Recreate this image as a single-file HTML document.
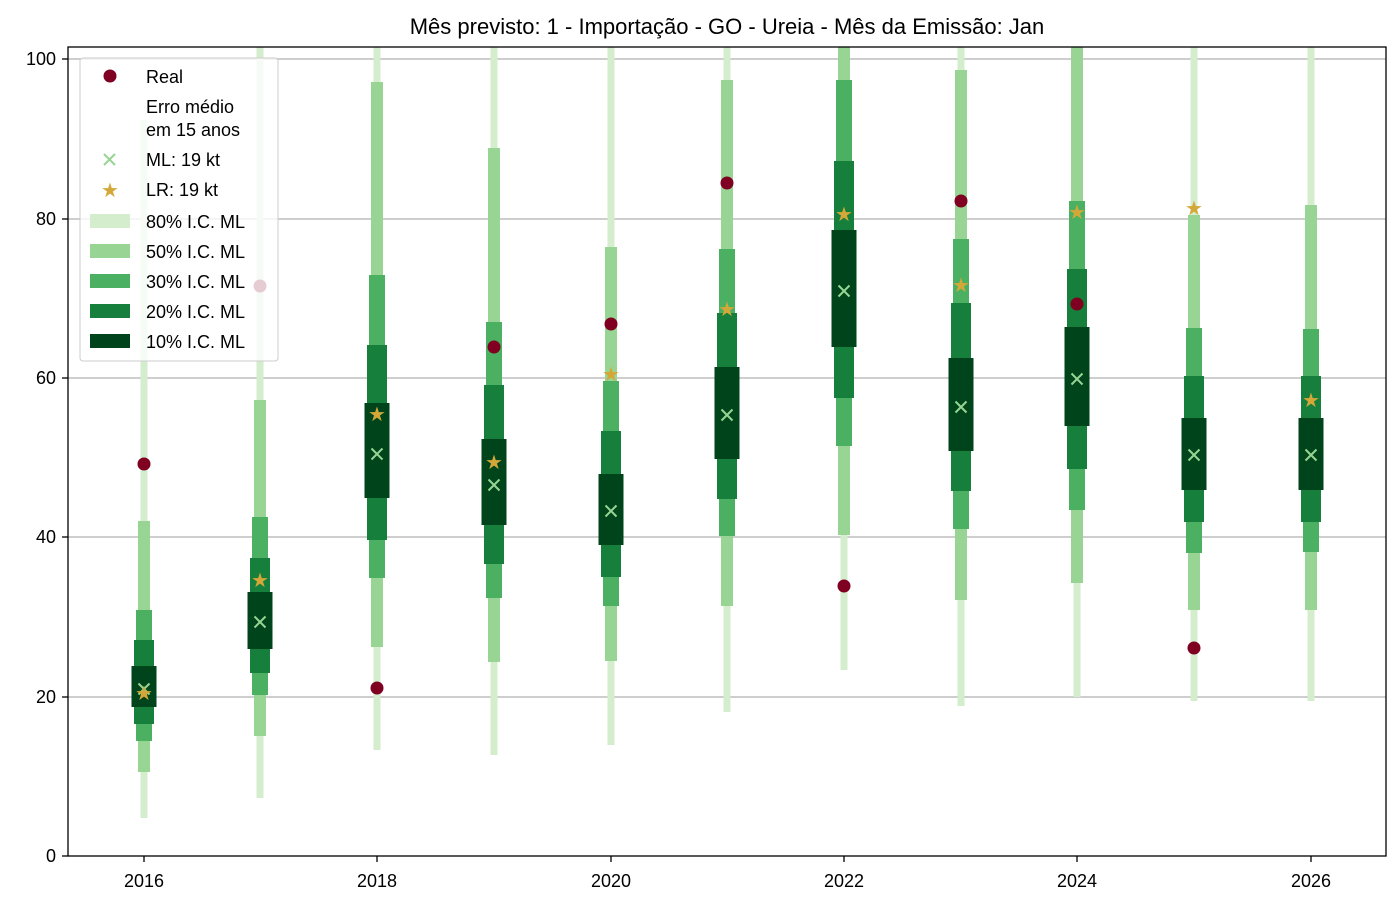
<!DOCTYPE html>
<html><head><meta charset="utf-8"><style>
body{margin:0;background:#fff}
svg text{font-family:"Liberation Sans","DejaVu Sans",sans-serif;fill:#000}
.a{fill:#d3edcd}.b{fill:#98d594}.c{fill:#4bb062}.d{fill:#157f3b}.e{fill:#00441b}
.x{stroke:#98d594;stroke-width:2;fill:none}
.s{fill:#d4a838}
.r{fill:#7f0020}
</style></head><body>
<svg width="1400" height="906" viewBox="0 0 1400 906" xmlns="http://www.w3.org/2000/svg">
<defs><clipPath id="c"><rect x="68" y="47" width="1318" height="809"/></clipPath></defs>
<text x="727" y="34" font-size="22" text-anchor="middle">Mês previsto: 1 - Importação - GO - Ureia - Mês da Emissão: Jan</text>
<g stroke="#b0b0b0" stroke-width="1.3">
<line x1="68" x2="1386" y1="59" y2="59"/><line x1="68" x2="1386" y1="219" y2="219"/><line x1="68" x2="1386" y1="378" y2="378"/><line x1="68" x2="1386" y1="537" y2="537"/><line x1="68" x2="1386" y1="697" y2="697"/>
</g>
<g clip-path="url(#c)">
<g transform="translate(144,0)">
<rect class="a" x="-3.5" y="120" width="7" height="698"/><rect class="b" x="-6" y="521" width="12" height="251"/><rect class="c" x="-8" y="610" width="16" height="131"/><rect class="d" x="-10" y="640" width="20" height="84"/><rect class="e" x="-12.5" y="666" width="25" height="41"/>
<path class="x" d="M-5.5 683.5l11 11M5.5 683.5l-11 11"/><text class="s" x="0" y="700" font-size="20" text-anchor="middle">★</text><circle class="r" cx="0" cy="464" r="6.5"/></g>
<g transform="translate(260,0)">
<rect class="a" x="-3.5" y="40" width="7" height="758"/><rect class="b" x="-6" y="400" width="12" height="336"/><rect class="c" x="-8" y="517" width="16" height="178"/><rect class="d" x="-10" y="558" width="20" height="115"/><rect class="e" x="-12.5" y="592" width="25" height="57"/>
<path class="x" d="M-5.5 616.5l11 11M5.5 616.5l-11 11"/><text class="s" x="0" y="587" font-size="20" text-anchor="middle">★</text><circle class="r" cx="0" cy="286" r="6.5"/></g>
<g transform="translate(377,0)">
<rect class="a" x="-3.5" y="40" width="7" height="710"/><rect class="b" x="-6" y="82" width="12" height="565"/><rect class="c" x="-8" y="275" width="16" height="303"/><rect class="d" x="-10" y="345" width="20" height="195"/><rect class="e" x="-12.5" y="403" width="25" height="95"/>
<path class="x" d="M-5.5 448.5l11 11M5.5 448.5l-11 11"/><text class="s" x="0" y="421" font-size="20" text-anchor="middle">★</text><circle class="r" cx="0" cy="688" r="6.5"/></g>
<g transform="translate(494,0)">
<rect class="a" x="-3.5" y="40" width="7" height="715"/><rect class="b" x="-6" y="148" width="12" height="514"/><rect class="c" x="-8" y="322" width="16" height="276"/><rect class="d" x="-10" y="385" width="20" height="179"/><rect class="e" x="-12.5" y="439" width="25" height="86"/>
<path class="x" d="M-5.5 479.5l11 11M5.5 479.5l-11 11"/><text class="s" x="0" y="469" font-size="20" text-anchor="middle">★</text><circle class="r" cx="0" cy="347" r="6.5"/></g>
<g transform="translate(611,0)">
<rect class="a" x="-3.5" y="40" width="7" height="705"/><rect class="b" x="-6" y="247" width="12" height="414"/><rect class="c" x="-8" y="381" width="16" height="225"/><rect class="d" x="-10" y="431" width="20" height="146"/><rect class="e" x="-12.5" y="474" width="25" height="71"/>
<path class="x" d="M-5.5 505.5l11 11M5.5 505.5l-11 11"/><text class="s" x="0" y="381" font-size="20" text-anchor="middle">★</text><circle class="r" cx="0" cy="324" r="6.5"/></g>
<g transform="translate(727,0)">
<rect class="a" x="-3.5" y="40" width="7" height="672"/><rect class="b" x="-6" y="80" width="12" height="526"/><rect class="c" x="-8" y="249" width="16" height="287"/><rect class="d" x="-10" y="313" width="20" height="186"/><rect class="e" x="-12.5" y="367" width="25" height="92"/>
<path class="x" d="M-5.5 409.5l11 11M5.5 409.5l-11 11"/><text class="s" x="0" y="316" font-size="20" text-anchor="middle">★</text><circle class="r" cx="0" cy="183" r="6.5"/></g>
<g transform="translate(844,0)">
<rect class="a" x="-3.5" y="40" width="7" height="630"/><rect class="b" x="-6" y="40" width="12" height="495"/><rect class="c" x="-8" y="80" width="16" height="366"/><rect class="d" x="-10" y="161" width="20" height="237"/><rect class="e" x="-12.5" y="230" width="25" height="117"/>
<path class="x" d="M-5.5 285.5l11 11M5.5 285.5l-11 11"/><text class="s" x="0" y="221" font-size="20" text-anchor="middle">★</text><circle class="r" cx="0" cy="586" r="6.5"/></g>
<g transform="translate(961,0)">
<rect class="a" x="-3.5" y="40" width="7" height="666"/><rect class="b" x="-6" y="70" width="12" height="530"/><rect class="c" x="-8" y="239" width="16" height="290"/><rect class="d" x="-10" y="303" width="20" height="188"/><rect class="e" x="-12.5" y="358" width="25" height="93"/>
<path class="x" d="M-5.5 401.5l11 11M5.5 401.5l-11 11"/><text class="s" x="0" y="292" font-size="20" text-anchor="middle">★</text><circle class="r" cx="0" cy="201" r="6.5"/></g>
<g transform="translate(1077,0)">
<rect class="a" x="-3.5" y="40" width="7" height="657"/><rect class="b" x="-6" y="40" width="12" height="543"/><rect class="c" x="-8" y="201" width="16" height="309"/><rect class="d" x="-10" y="269" width="20" height="200"/><rect class="e" x="-12.5" y="327" width="25" height="99"/>
<path class="x" d="M-5.5 373.5l11 11M5.5 373.5l-11 11"/><text class="s" x="0" y="219" font-size="20" text-anchor="middle">★</text><circle class="r" cx="0" cy="304" r="6.5"/></g>
<g transform="translate(1194,0)">
<rect class="a" x="-3.5" y="40" width="7" height="661"/><rect class="b" x="-6" y="215" width="12" height="395"/><rect class="c" x="-8" y="328" width="16" height="225"/><rect class="d" x="-10" y="376" width="20" height="146"/><rect class="e" x="-12.5" y="418" width="25" height="72"/>
<path class="x" d="M-5.5 449.5l11 11M5.5 449.5l-11 11"/><text class="s" x="0" y="215" font-size="20" text-anchor="middle">★</text><circle class="r" cx="0" cy="648" r="6.5"/></g>
<g transform="translate(1311,0)">
<rect class="a" x="-3.5" y="40" width="7" height="661"/><rect class="b" x="-6" y="205" width="12" height="405"/><rect class="c" x="-8" y="329" width="16" height="223"/><rect class="d" x="-10" y="376" width="20" height="146"/><rect class="e" x="-12.5" y="418" width="25" height="72"/>
<path class="x" d="M-5.5 449.5l11 11M5.5 449.5l-11 11"/><text class="s" x="0" y="407" font-size="20" text-anchor="middle">★</text></g>
</g>
<rect x="68" y="47" width="1318" height="809" fill="none" stroke="#000" stroke-width="1.3"/>
<g font-size="18" text-anchor="end">
<text x="56" y="862">0</text><text x="56" y="703">20</text><text x="56" y="543">40</text><text x="56" y="384">60</text><text x="56" y="225">80</text><text x="56" y="65">100</text>
</g>
<g stroke="#000" stroke-width="1.3">
<line x1="62" x2="68" y1="856" y2="856"/><line x1="62" x2="68" y1="697" y2="697"/><line x1="62" x2="68" y1="537" y2="537"/><line x1="62" x2="68" y1="378" y2="378"/><line x1="62" x2="68" y1="219" y2="219"/><line x1="62" x2="68" y1="59" y2="59"/>
<line x1="144" x2="144" y1="856" y2="862"/><line x1="377" x2="377" y1="856" y2="862"/><line x1="611" x2="611" y1="856" y2="862"/><line x1="844" x2="844" y1="856" y2="862"/><line x1="1077" x2="1077" y1="856" y2="862"/><line x1="1311" x2="1311" y1="856" y2="862"/>
</g>
<g font-size="18" text-anchor="middle">
<text x="144" y="887">2016</text><text x="377" y="887">2018</text><text x="611" y="887">2020</text><text x="844" y="887">2022</text><text x="1077" y="887">2024</text><text x="1311" y="887">2026</text>
</g>
<g>
<rect x="80" y="58" width="198" height="303" rx="3" fill="#fff" fill-opacity="0.8" stroke="#ccc"/>
<circle class="r" cx="110" cy="76" r="6.5"/>
<text x="146" y="83" font-size="18">Real</text>
<text x="146" y="113" font-size="18">Erro médio</text>
<text x="146" y="136" font-size="18">em 15 anos</text>
<path class="x" d="M104 154l11 11M115 154l-11 11"/>
<text x="146" y="166" font-size="18">ML: 19 kt</text>
<text class="s" x="110" y="197" font-size="20" text-anchor="middle">★</text>
<text x="146" y="196" font-size="18">LR: 19 kt</text>
<rect class="a" x="90" y="214" width="40" height="14"/><text x="146" y="228" font-size="18">80% I.C. ML</text>
<rect class="b" x="90" y="244" width="40" height="14"/><text x="146" y="258" font-size="18">50% I.C. ML</text>
<rect class="c" x="90" y="274" width="40" height="14"/><text x="146" y="288" font-size="18">30% I.C. ML</text>
<rect class="d" x="90" y="304" width="40" height="14"/><text x="146" y="318" font-size="18">20% I.C. ML</text>
<rect class="e" x="90" y="334" width="40" height="14"/><text x="146" y="348" font-size="18">10% I.C. ML</text>
</g>
</svg>
</body></html>
